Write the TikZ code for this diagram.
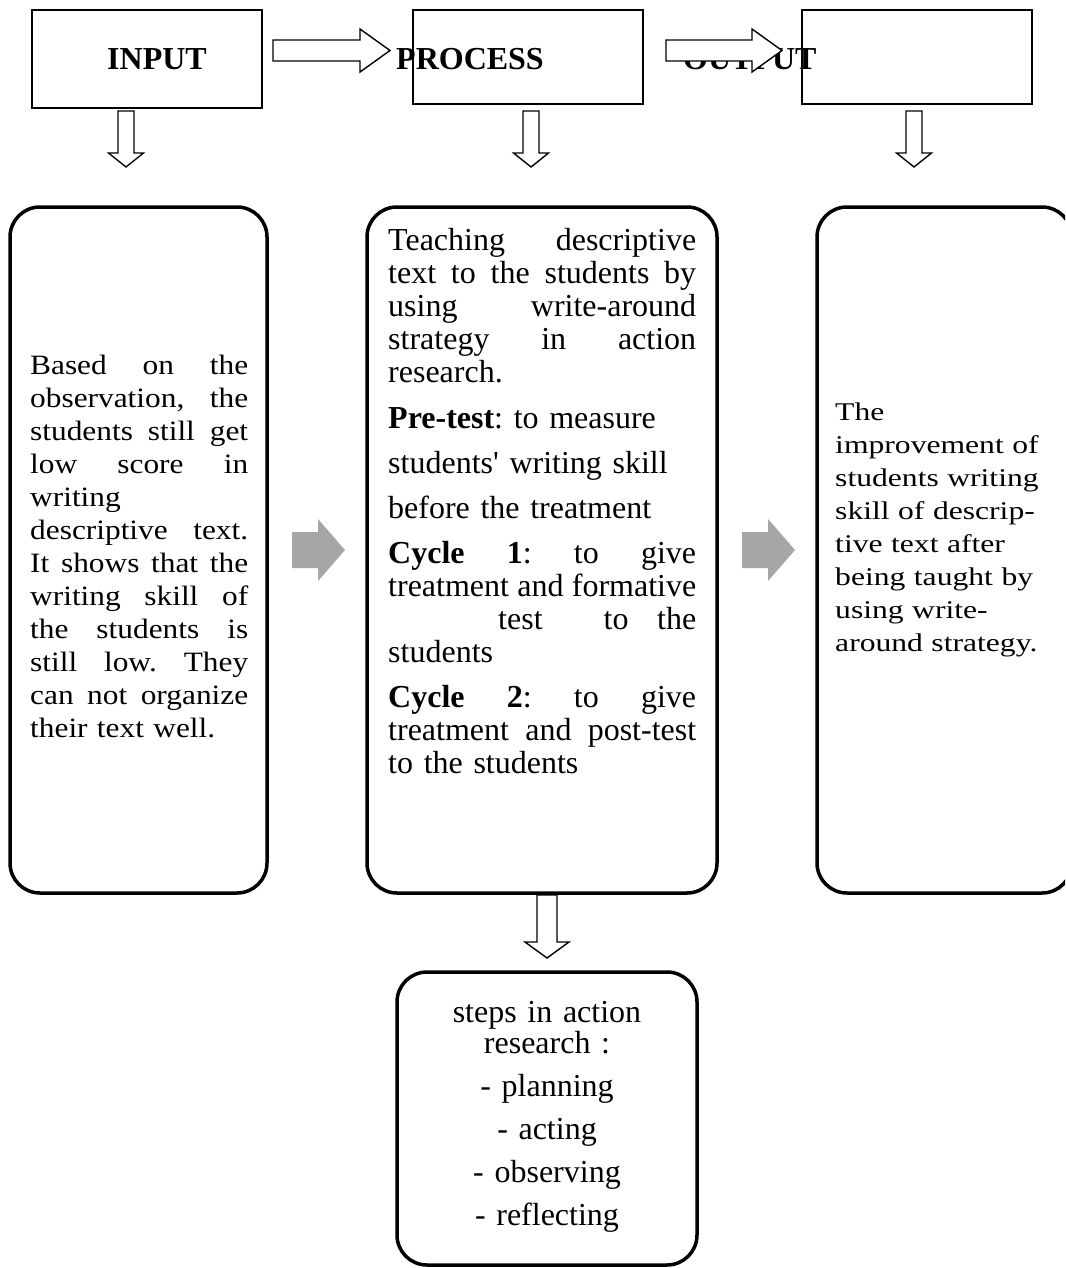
\documentclass[tikz,border=0pt]{standalone}
\usepackage{fontspec}
\setmainfont{Liberation Serif}
\newfontfamily\leftfont[FakeStretch=1.12]{Liberation Serif}
\newfontfamily\rightfont[FakeStretch=1.24]{Liberation Serif}
\setlength{\parindent}{0pt}
\frenchspacing
\newcommand{\jline}[1]{\hbox to\hsize{\spaceskip=0.25em plus 1fil\relax #1}\par}
\newcommand{\lline}[1]{#1\par}
\definecolor{arrowgray}{RGB}{166,166,166}
\begin{document}
\begin{tikzpicture}[x=1pt,y=-1pt,
  topbox/.style={draw, line width=1.5pt, inner sep=0pt, outer sep=0pt, anchor=north west},
  bigbox/.style={draw, line width=3.5pt, rounded corners=30pt, inner sep=0pt, outer sep=0pt, anchor=north west},
  hollow/.style={draw, fill=white, line width=1.4pt, line join=miter},
  grayarrow/.style={fill=arrowgray},
  title/.style={font=\fontsize{32}{33}\selectfont\bfseries, inner sep=0pt, anchor=base west},
  bodytext/.style={inner sep=0pt, anchor=base west}]
\useasboundingbox (0,0) rectangle (1065,1268);
\clip (0,0) rectangle (1065,1268);
\fill[white] (0,0) rectangle (1065,1268);

% top boxes
\node[topbox, minimum width=230, minimum height=98] (inbox) at (32,10) {};
\node[topbox, minimum width=230, minimum height=94] (procbox) at (413,10) {};
\node[topbox, minimum width=230, minimum height=94] (outbox) at (802,10) {};

% titles
\node[title] (intitle) at (107,70) {INPUT};
\node[title] (proctitle) at (396,70) {PROCESS};
\node[title] (outtitle) at (683,70) {OUTPUT};

% hollow right arrows
\draw[hollow] (273,40) -- (360,40) -- (360,29) -- (390,50.5) -- (360,72) -- (360,61) -- (273,61) -- cycle;
\draw[hollow] (666,40) -- (752,40) -- (752,29) -- (782,50.5) -- (752,72) -- (752,61) -- (666,61) -- cycle;

% hollow down arrows under the top boxes
\foreach \cx in {126,531,914}{
  \draw[hollow] ({\cx-8},111) -- ({\cx+8},111) -- ({\cx+8},153) -- ({\cx+17.5},153) -- (\cx,167) -- ({\cx-17.5},153) -- ({\cx-8},153) -- cycle;
}

% hollow down arrow to the bottom box
\draw[hollow] (537,895) -- (557,895) -- (557,942) -- (569,942) -- (547,958) -- (525,942) -- (537,942) -- cycle;

% big boxes
\node[bigbox, minimum width=257, minimum height=686] (inputbox) at (10,207) {};
\node[bigbox, minimum width=350, minimum height=686] (processbox) at (367,207) {};
\node[bigbox, minimum width=255, minimum height=686] (outputbox) at (817,207) {};
\node[bigbox, minimum width=300, minimum height=293] (stepsbox) at (397,972) {};

% gray arrows
\fill[grayarrow] (292,532) -- (318,532) -- (318,519) -- (345,550) -- (318,581) -- (318,568) -- (292,568) -- cycle;
\fill[grayarrow] (742,532) -- (768,532) -- (768,519) -- (795,550) -- (768,581) -- (768,568) -- (742,568) -- cycle;

% input text
\node[bodytext, text width=218, font=\leftfont\fontsize{28}{33}\selectfont] (inputtext) at (30,374) {%
\jline{Based on the}
\jline{observation, the}
\jline{students still get}
\jline{low score in}
\lline{writing}
\jline{descriptive text.}
\jline{It shows that the}
\jline{writing skill of}
\jline{the students is}
\jline{still low. They}
\jline{can not organize}
\lline{their text well.}};

% process text
\node[bodytext, text width=308, font=\fontsize{32}{33}\selectfont] (processtext) at (388,250) {%
\jline{Teaching descriptive}
\jline{text to the students by}
\jline{using write-around}
\jline{strategy in action}
\lline{research.}
\vspace{13pt}
\lline{\textbf{Pre-test}: to measure}
\vspace{12pt}
\lline{students\textquotesingle\ writing skill}
\vspace{12pt}
\lline{before the treatment}
\vspace{12pt}
\jline{\textbf{Cycle 1}: to give}
\jline{treatment and formative}
\hbox to\hsize{\hspace*{110pt}test\hspace{61pt}to\hfill the}\par
\lline{students}
\vspace{12pt}
\jline{\textbf{Cycle 2}: to give}
\jline{treatment and post-test}
\lline{to the students}};

% output text
\node[bodytext, text width=225, font=\rightfont\fontsize{25.5}{33}\selectfont] (outputtext) at (835,420) {%
\lline{The}
\lline{improvement of}
\lline{students writing}
\lline{skill of descrip-}
\lline{tive text after}
\lline{being taught by}
\lline{using write-}
\lline{around strategy.}};

% steps text
\node[inner sep=0pt, anchor=base, text width=300, font=\fontsize{32}{31}\selectfont] (stepstext) at (547,1022) {%
\centering
steps in action\par
research :\par
\vspace{12pt}
- planning\par
\vspace{12pt}
- acting\par
\vspace{12pt}
- observing\par
\vspace{12pt}
- reflecting\par};
\end{tikzpicture}
\end{document}
